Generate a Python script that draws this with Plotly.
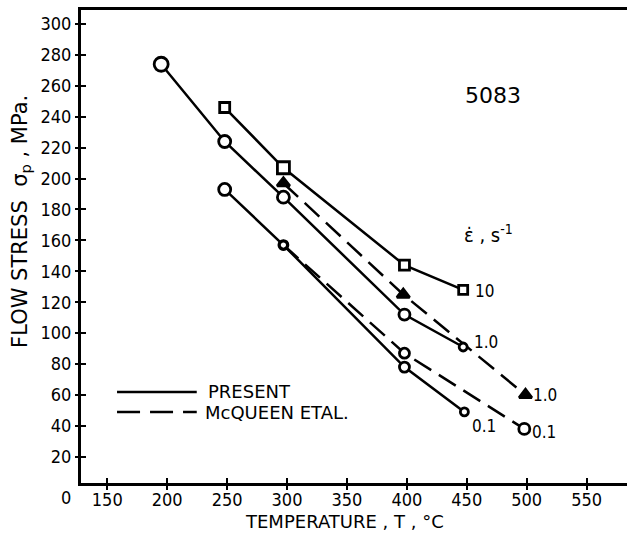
import plotly.graph_objects as go

# ---- data ----
present_10_T = [248, 297, 398, 447]
present_10_s = [246, 207, 144, 128]

present_1_T = [195, 248, 297, 398, 447]
present_1_s = [274, 224, 188, 112, 91]

present_01_T = [248, 297, 398, 448]
present_01_s = [193, 157, 78, 49]

mcq_1_T = [297, 397, 499]
mcq_1_s = [197, 125, 60]

mcq_01_T = [297, 398, 498]
mcq_01_s = [157, 87, 38]

x_ticks = [150, 200, 250, 300, 350, 400, 450, 500, 550]
y_ticks = [20, 40, 60, 80, 100, 120, 140, 160, 180, 200, 220, 240, 260, 280, 300]

# ---- style ----
FONT_C = "DejaVu Sans Condensed, DejaVu Sans, sans-serif"
FONT_R = "DejaVu Sans, sans-serif"
LW = 2.5
DASH = "20px,9px"

fig = go.Figure()

def add(T, s, dash, symbol, sizes, fill):
    fig.add_trace(go.Scatter(
        x=T, y=s, mode="lines+markers",
        line=dict(color="#000000", width=LW, dash=dash),
        marker=dict(symbol=symbol, size=sizes, color=fill, opacity=1,
                    line=dict(color="#000000", width=2.8)),
        showlegend=False, hoverinfo="skip"))

add(mcq_1_T, mcq_1_s, DASH, "triangle-up", [11, 11, 11], "#000000")
add(mcq_01_T, mcq_01_s, DASH, "circle", [9, 10, 11], "#ffffff")
add(present_10_T, present_10_s, "solid", "square", [10, 12, 10, 9], "#ffffff")
add(present_1_T, present_1_s, "solid", "circle", [14, 12, 12, 11, 8], "#ffffff")
add(present_01_T, present_01_s, "solid", "circle", [12, 8, 10, 8], "#ffffff")

# invisible trace for the overlay axes (inner tick halves)
fig.add_trace(go.Scatter(x=[300], y=[100], xaxis="x2", yaxis="y2",
                         mode="markers", marker=dict(opacity=0),
                         showlegend=False, hoverinfo="skip"))

XR = [128.1, 583.7]
YR = [3.0, 309.1]

fig.update_layout(
    width=627, height=534,
    margin=dict(l=81, r=0, t=10, b=51),
    paper_bgcolor="white", plot_bgcolor="white",
    font=dict(family=FONT_C, color="black", size=18),
    xaxis=dict(range=XR, tickvals=x_ticks, ticks="outside", ticklen=4,
               tickwidth=2, tickcolor="black", showline=True, linewidth=3,
               linecolor="black", mirror=True, showgrid=False, zeroline=False,
               ticklabelstandoff=-6,
               tickfont=dict(size=18, family=FONT_C)),
    yaxis=dict(range=YR, tickvals=y_ticks, ticks="outside", ticklen=3,
               tickwidth=2, tickcolor="black", showline=True, linewidth=3,
               linecolor="black", showgrid=False, zeroline=False,
               tickfont=dict(size=18, family=FONT_C)),
    xaxis2=dict(range=XR, overlaying="x", anchor="y", side="bottom",
                tickvals=x_ticks, ticks="inside", ticklen=5, tickwidth=2,
                tickcolor="black", showticklabels=False, showline=False,
                showgrid=False, zeroline=False),
    yaxis2=dict(range=YR, overlaying="y", anchor="x", side="left",
                tickvals=y_ticks, ticks="inside", ticklen=5, tickwidth=2,
                tickcolor="black", showticklabels=False, showline=False,
                showgrid=False, zeroline=False),
)

ann = []
def txt(x, y, t, size=17, xref="x", yref="y", xanchor="left", angle=0,
        family=FONT_C):
    ann.append(dict(x=x, y=y, xref=xref, yref=yref, text=t, showarrow=False,
                    xanchor=xanchor, yanchor="middle", textangle=angle,
                    font=dict(size=size, family=family, color="black")))

txt(455, 127, "10")
txt(454, 94, "1.0")
txt(504, 60, "1.0")
txt(452.6, 40, "0.1")
txt(502.7, 36, "0.1")
txt(472, 254, "5083", size=22, xanchor="center", family=FONT_R)
txt(468, 164, "ε̇ , s<sup>-1</sup>", size=20, xanchor="center")

# axis titles / origin label
txt(-0.110, 0.554, "FLOW STRESS  σ<sub>p</sub> , MPa.", size=21,
    xref="paper", yref="paper", xanchor="center", angle=-90, family=FONT_R)
txt(0.482, -0.081, "TEMPERATURE , T , °C", size=18,
    xref="paper", yref="paper", xanchor="center", family=FONT_R)
txt(-0.028, -0.030, "0", size=18, xref="paper", yref="paper",
    xanchor="center")

# legend (drawn as decorations)
txt(0.229, 0.1924, "PRESENT", size=18, xref="paper", yref="paper",
    family=FONT_R)
txt(0.223, 0.150, "McQUEEN ETAL.", size=18, xref="paper", yref="paper",
    family=FONT_R)
fig.update_layout(annotations=ann)

fig.add_shape(type="line", xref="paper", yref="paper",
              x0=0.066, x1=0.212, y0=0.1924, y1=0.1924,
              line=dict(color="black", width=LW))
fig.add_shape(type="line", xref="paper", yref="paper",
              x0=0.066, x1=0.212, y0=0.150, y1=0.150,
              line=dict(color="black", width=LW, dash="23px,10px"))

fig.write_html("out.html")
